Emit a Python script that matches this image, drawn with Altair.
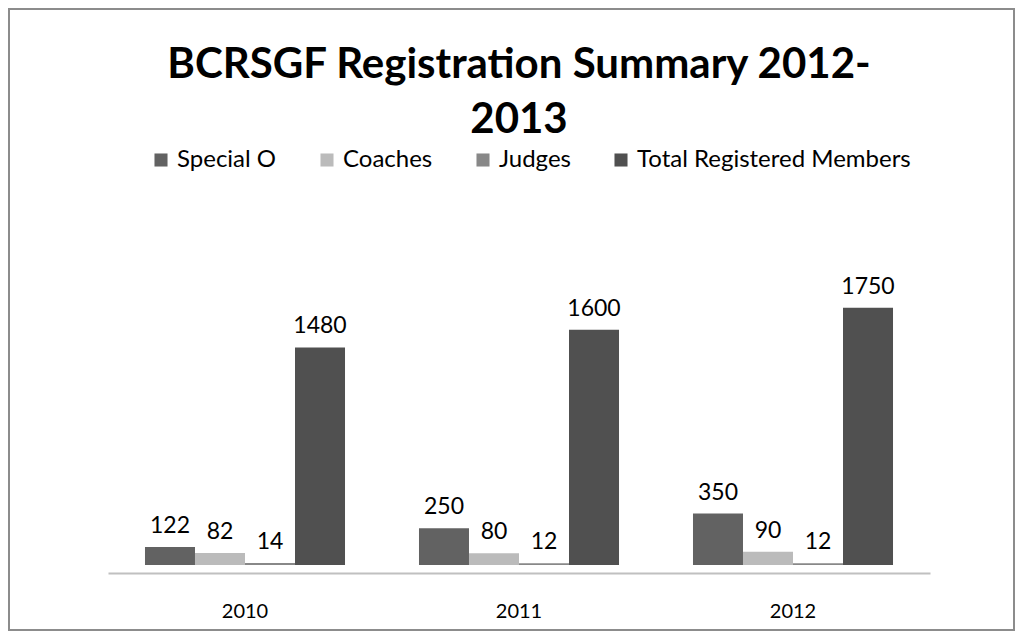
import altair as alt
import pandas as pd

years = ["2010", "2011", "2012"]
series = ["Special O", "Coaches", "Judges", "Total Registered Members"]
special_o = [122, 250, 350]
coaches = [82, 80, 90]
judges = [14, 12, 12]
total = [1480, 1600, 1750]
colors = ["#626262", "#bbbbbb", "#888888", "#505050"]

rows = []
for i, y in enumerate(years):
    for s, vals in zip(series, [special_o, coaches, judges, total]):
        rows.append({"year": y, "series": s, "value": vals[i]})
df = pd.DataFrame(rows)

FONT = "Lato"

x_enc = alt.X("year:N", sort=years, title=None,
              scale=alt.Scale(paddingInner=0.27, paddingOuter=0.135),
              axis=alt.Axis(labelAngle=0, ticks=False, domainColor="#c0c0c0",
                            domainWidth=2, offset=8, labelPadding=28,
                            labelFontSize=20, labelFont=FONT, labelColor="#000000"))
xo = alt.XOffset("series:N", sort=series)
y_enc = alt.Y("value:Q", scale=alt.Scale(domain=[0, 2000]), axis=None)

base = alt.Chart(df)
bars = base.mark_bar().encode(
    x=x_enc, xOffset=xo, y=y_enc,
    color=alt.Color("series:N", sort=series,
                    scale=alt.Scale(domain=series, range=colors),
                    legend=alt.Legend(title=None, orient="none", direction="horizontal",
                                      legendX=41, legendY=-123, columns=4,
                                      symbolType="square", symbolSize=170,
                                      symbolStrokeWidth=0, columnPadding=38,
                                      labelOffset=4,
                                      labelFontSize=24, labelFont=FONT,
                                      labelColor="#000000", labelLimit=500)),
)
labels = base.mark_text(baseline="bottom", dy=-9, fontSize=23, font=FONT, color="#000000").encode(
    x=x_enc, xOffset=xo, y=y_enc, text="value:Q"
)

border = alt.Chart(pd.DataFrame({"a": [0]})).mark_rect(
    fill=None, stroke="#8c8c8c", strokeWidth=2, clip=False
).encode(x=alt.value(-99), x2=alt.value(906), y=alt.value(-262), y2=alt.value(359))

chart = alt.layer(border, bars, labels).properties(
    width=822, height=294,
    autosize=alt.AutoSizeParams(type="none"),
    padding={"left": 100, "top": 263, "right": 85, "bottom": 68},
    title=alt.Title(["BCRSGF Registration Summary 2012-", "2013"], fontSize=42,
                    font=FONT, fontWeight="bold", color="#000000", anchor="middle",
                    lineHeight=55, offset=-134),
).configure_view(stroke=None)

chart.save("out.html", embed_options={"renderer": "svg", "actions": False})
